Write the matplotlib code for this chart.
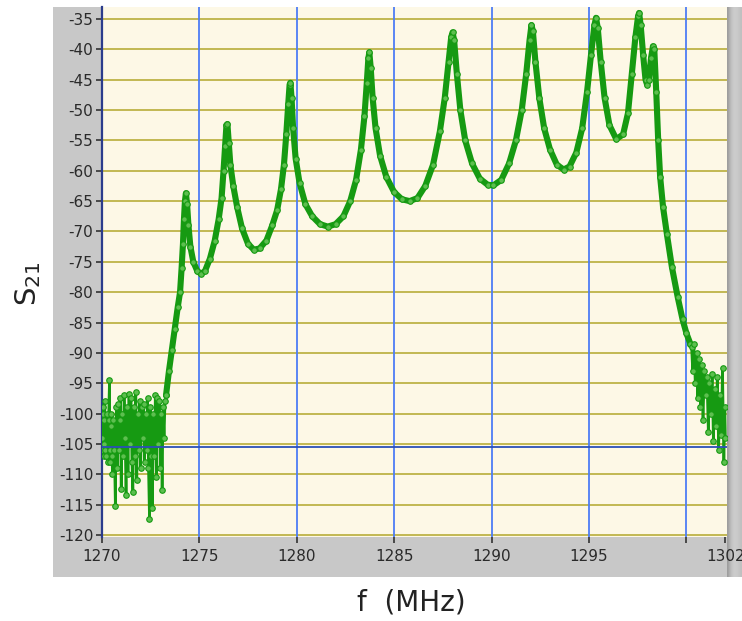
import matplotlib
matplotlib.use("Agg")
import matplotlib.pyplot as plt
import matplotlib.patches as patches
import numpy as np

plt.rcParams['axes.unicode_minus'] = False
plt.rcParams['font.family'] = 'DejaVu Sans'

# stop-band noise below the filter (MHz, dB)
freq_lo = [1270.00, 1270.02, 1270.04, 1270.06, 1270.08, 1270.10, 1270.12, 1270.14, 1270.16, 1270.18,
           1270.20, 1270.25, 1270.30, 1270.35, 1270.40, 1270.42, 1270.45, 1270.48, 1270.50, 1270.53,
           1270.55, 1270.60, 1270.65, 1270.70, 1270.75, 1270.80, 1270.85, 1270.90, 1270.93,
           1270.95, 1271.00, 1271.05, 1271.10, 1271.15, 1271.20, 1271.25, 1271.30, 1271.35, 1271.40,
           1271.45, 1271.50, 1271.55, 1271.60, 1271.65, 1271.70, 1271.75, 1271.80, 1271.85, 1271.90,
           1271.95, 1272.00, 1272.05, 1272.10, 1272.15, 1272.20, 1272.25, 1272.30, 1272.35, 1272.40,
           1272.45, 1272.50, 1272.55, 1272.60, 1272.65, 1272.70, 1272.75, 1272.80, 1272.85, 1272.90,
           1272.95, 1273.00, 1273.05, 1273.10, 1273.15, 1273.20, 1273.25, 1273.30]
s21_lo = [-101, -104, -106, -100, -99, -107, -105, -101, -98, -106,
          -107, -100, -108, -101, -94.4, -106, -108, -102, -100, -107,
          -110, -101, -106, -115.3, -99, -109, -98.5, -106, -101,
          -97.5, -112.5, -100, -107, -97, -104, -113.5, -99, -110, -96.8,
          -105, -97.5, -108, -113, -99, -107, -96.5, -111, -100, -106,
          -98, -109, -99, -104, -98.5, -108, -100, -106, -97.5, -109,
          -117.3, -99, -107, -115.5, -100, -107, -97, -110.5, -97.5, -105,
          -98, -109, -100, -112.6, -99, -104, -98, -97]

# pass band with the resonance peaks
freq_band = [1273.30, 1273.45, 1273.60, 1273.75, 1273.90, 1274.02, 1274.10, 1274.17, 1274.22, 1274.27,
             1274.32, 1274.38, 1274.45, 1274.55, 1274.70, 1274.90, 1275.10, 1275.30, 1275.55, 1275.80,
             1276.00, 1276.15, 1276.25, 1276.33, 1276.40, 1276.45, 1276.52, 1276.60, 1276.75, 1276.95,
             1277.20, 1277.50, 1277.80, 1278.10, 1278.45, 1278.75, 1279.00, 1279.20, 1279.35, 1279.47,
             1279.57, 1279.64, 1279.68, 1279.74, 1279.82, 1279.95, 1280.15, 1280.45, 1280.80, 1281.20,
             1281.60, 1282.00, 1282.40, 1282.75, 1283.05, 1283.30, 1283.48, 1283.60, 1283.68, 1283.73,
             1283.80, 1283.90, 1284.05, 1284.28, 1284.60, 1285.00, 1285.40, 1285.80, 1286.20, 1286.60,
             1287.00, 1287.35, 1287.60, 1287.80, 1287.93, 1288.00, 1288.08, 1288.22, 1288.40, 1288.65,
             1289.00, 1289.40, 1289.80, 1290.10, 1290.50, 1290.90, 1291.25, 1291.55, 1291.78, 1291.95,
             1292.05, 1292.12, 1292.25, 1292.45, 1292.70, 1293.00, 1293.35, 1293.70, 1294.00, 1294.35,
             1294.65, 1294.90, 1295.10, 1295.28, 1295.36, 1295.45, 1295.60, 1295.80, 1296.05, 1296.40,
             1296.75, 1297.00, 1297.20, 1297.38, 1297.52, 1297.57, 1297.65, 1297.78, 1297.90, 1297.98,
             1298.07, 1298.18, 1298.28, 1298.35, 1298.45, 1298.55, 1298.65, 1298.80, 1299.00, 1299.25,
             1299.55, 1299.80, 1300.00, 1300.20]
s21_band = [-97, -93, -89.5, -86, -82.5, -80, -76, -72, -68, -65,
            -63.7, -65.5, -69, -72.5, -75, -76.5, -77, -76.5, -74.5, -71.5,
            -68, -64.5, -60, -56, -52.5, -52.3, -55.5, -59, -62.5, -66,
            -69.5, -72, -73, -72.8, -71.5, -69, -66.5, -63, -59, -54,
            -49, -45.8, -45.5, -48, -53, -58, -62, -65.5, -67.5, -68.8,
            -69.2, -68.8, -67.5, -65, -61.5, -56.5, -51, -45.5, -41.5, -40.5,
            -43, -48, -53, -57.5, -61, -63.5, -64.7, -65, -64.5, -62.5,
            -59, -53.5, -48, -42, -38, -37.2, -38.5, -44, -50, -55,
            -58.8, -61.3, -62.3, -62.4, -61.5, -58.8, -55, -50, -44, -38.5,
            -36, -37, -42, -48, -53, -56.5, -59, -59.8, -59.3, -57,
            -53, -47, -41, -36, -34.8, -36.5, -42, -48, -52.5, -54.8,
            -54, -50.5, -44, -38, -34.5, -34.0, -36, -41, -45, -45.8,
            -45, -41.5, -39.5, -40, -47, -55, -61, -66, -70.5, -75.8,
            -80.8, -84.5, -86.8, -88.5]

# stop-band noise above the filter
freq_hi = [1300.20, 1300.26, 1300.32, 1300.38, 1300.45, 1300.52, 1300.58, 1300.65, 1300.72, 1300.78,
           1300.85, 1300.92, 1300.98, 1301.05, 1301.12, 1301.18, 1301.25, 1301.32, 1301.38, 1301.45,
           1301.52, 1301.58, 1301.65, 1301.72, 1301.78, 1301.85, 1301.92, 1301.97, 1302.00]
s21_hi = [-88.5, -89, -93, -88.5, -95, -90, -97.5, -91, -99, -92,
          -101, -93, -97, -94, -103, -95, -100, -93.5, -104.5, -96,
          -102, -94, -106, -97, -103.5, -92.5, -108, -99, -104]

x_ticks = [1270, 1275, 1280, 1285, 1290, 1295, 1300, 1302]
x_tick_labels = ['1270', '1275', '1280', '1285', '1290', '1295', '', '1302']
y_ticks = list(range(-120, -34, 5))
cursor_level = -105.5

W, H = 742, 621
fig = plt.figure(figsize=(W / 100, H / 100), dpi=100)

# gray frame of the graph panel
fig.patches.append(patches.Rectangle((53 / W, 1 - 577 / H), 1 - 53 / W, 570 / H,
                                     transform=fig.transFigure, facecolor='#C8C8C8',
                                     edgecolor='none', zorder=-5))

# darker strip along the right border (drawn under the tick labels)
strip = fig.add_axes([727 / W, 1 - 577 / H, 15 / W, 570 / H])
strip.set_zorder(1)
grad = np.array([[0.62, 0.70, 0.76, 0.79, 0.80, 0.79, 0.77, 0.75]])
strip.imshow(grad, cmap='gray', vmin=0, vmax=1, aspect='auto', interpolation='bilinear')
strip.axis('off')

ax = fig.add_axes([101.7 / W, 1 - 536.7 / H, (727 - 101.7) / W, (536.7 - 7) / H])
ax.set_zorder(2)
ax.set_facecolor('#FDF8E6')
ax.set_xlim(1270, 1302.08)
ax.set_ylim(-120.29, -33.02)

for y in y_ticks:
    ax.axhline(y, color='#BDB347', lw=1.3, zorder=1)
for x in x_ticks[1:-1]:
    ax.axvline(x, color='#4D7DF5', lw=1.3, zorder=1)

green = '#169A12'
ax.plot(freq_lo, s21_lo, color=green, lw=1.9, marker='o', ms=4,
        mfc='#5DBF4F', mec=green, mew=0.8, zorder=3)
ax.plot(freq_band, s21_band, color=green, lw=4.4, marker='o', ms=4,
        mfc='#5DBF4F', mec=green, mew=0.8, zorder=3, solid_capstyle='round')
ax.plot(freq_hi, s21_hi, color=green, lw=1.9, marker='o', ms=4,
        mfc='#5DBF4F', mec=green, mew=0.8, zorder=3)

ax.axhline(cursor_level, color='#2A4FB8', lw=1.3, zorder=4)

for side in ['top', 'right', 'bottom']:
    ax.spines[side].set_visible(False)
ax.spines['left'].set_color('#2B3C8C')
ax.spines['left'].set_linewidth(1.6)

ax.set_xticks(x_ticks)
ax.set_xticklabels(x_tick_labels)
ax.set_yticks(y_ticks)
ax.tick_params(axis='both', direction='out', length=4.5, width=1.2, color='#333333',
               labelsize=11, labelcolor='#2A2A2A')
ax.tick_params(axis='y', pad=1.5)
ax.tick_params(axis='x', pad=4)

fig.text(411 / W, 1 - 602 / H, 'f  (MHz)', ha='center', va='center', fontsize=20, color='#222222')
fig.text(28 / W, 1 - 284 / H, r'S$_{21}$', ha='center', va='center', rotation=90,
         fontsize=21, color='#222222')

fig.savefig('out.png', dpi=100)
